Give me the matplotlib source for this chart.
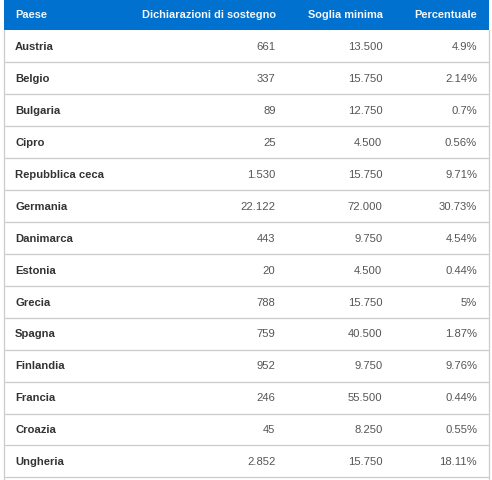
import matplotlib
matplotlib.use("Agg")
import matplotlib.pyplot as plt
from matplotlib.patches import Rectangle

plt.rcParams['font.family'] = ['Liberation Sans', 'DejaVu Sans']

headers = ["Paese", "Dichiarazioni di sostegno", "Soglia minima", "Percentuale"]
paesi = ["Austria", "Belgio", "Bulgaria", "Cipro", "Repubblica ceca", "Germania",
         "Danimarca", "Estonia", "Grecia", "Spagna", "Finlandia", "Francia",
         "Croazia", "Ungheria"]
dichiarazioni = ["661", "337", "89", "25", "1.530", "22.122", "443", "20", "788",
                 "759", "952", "246", "45", "2.852"]
soglie = ["13.500", "15.750", "12.750", "4.500", "15.750", "72.000", "9.750",
          "4.500", "15.750", "40.500", "9.750", "55.500", "8.250", "15.750"]
percentuali = ["4.9%", "2.14%", "0.7%", "0.56%", "9.71%", "30.73%", "4.54%",
               "0.44%", "5%", "1.87%", "9.76%", "0.44%", "0.55%", "18.11%"]

W, H = 492, 480
head_h = 30.4
row_h = 31.93
left, right = 3.5, 489.0
col_x = [15, 275.5, 382.5, 477]

fig = plt.figure(figsize=(W / 100, H / 100), dpi=100, facecolor="white")
ax = fig.add_axes([0, 0, 1, 1])
ax.set_xlim(0, W)
ax.set_ylim(H, 0)
ax.axis("off")

# header band
ax.add_patch(Rectangle((left, 0), right - left, head_h, fc="#0071ce", ec="none"))
for i, h in enumerate(headers):
    ax.text(col_x[i], 15.5, h, color="#f2f7fc", fontsize=7.9, fontweight="bold",
            ha="left" if i == 0 else "right", va="center")

# rows
for i in range(len(paesi)):
    y = head_h + row_h * (i + 0.5) + 0.7
    ax.text(col_x[0], y, paesi[i], color="#333333", fontsize=8.1, fontweight="bold",
            ha="left", va="center")
    ax.text(col_x[1], y, dichiarazioni[i], color="#555555", fontsize=8.1, ha="right", va="center")
    ax.text(col_x[2], y, soglie[i], color="#555555", fontsize=8.1, ha="right", va="center")
    ax.text(col_x[3], y, percentuali[i], color="#555555", fontsize=8.1, ha="right", va="center")
    line_y = head_h + row_h * (i + 1)
    ax.plot([left, right], [line_y, line_y], color="#cccccc", lw=0.9, solid_capstyle="butt")

# side borders run off the bottom of the crop
ax.plot([left, left], [head_h, H], color="#cccccc", lw=0.9)
ax.plot([right, right], [head_h, H], color="#cccccc", lw=0.9)

fig.savefig("out.png", dpi=100)
